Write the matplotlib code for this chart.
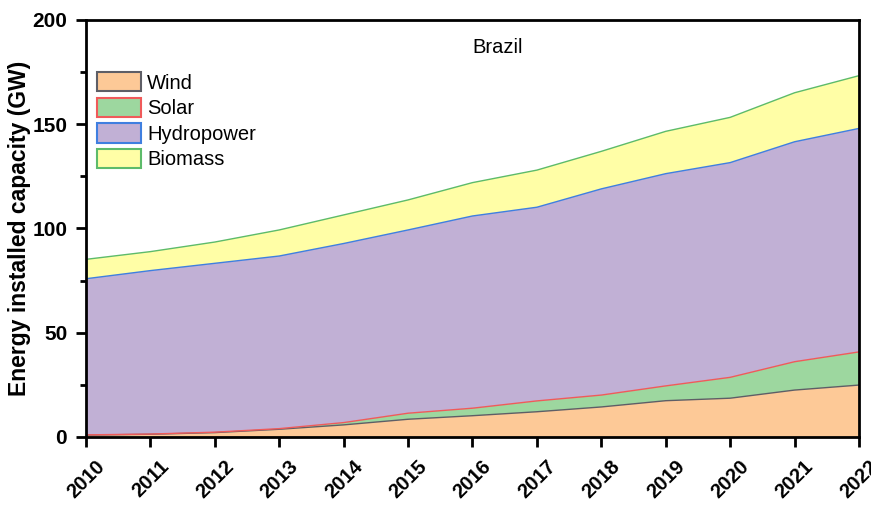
import matplotlib
matplotlib.use("Agg")
import matplotlib.pyplot as plt
from matplotlib.patches import Patch
from matplotlib.ticker import MultipleLocator
import numpy as np

plt.rcParams['font.family'] = ['Liberation Sans', 'DejaVu Sans']

years = [2010, 2011, 2012, 2013, 2014, 2015, 2016, 2017, 2018, 2019, 2020, 2021, 2022]
wind = [0.9, 1.3, 2.1, 3.7, 5.8, 8.5, 10.2, 12.1, 14.4, 17.4, 18.6, 22.5, 24.9]
solar = [0.1, 0.1, 0.2, 0.3, 1.1, 2.9, 3.6, 5.2, 5.7, 7.1, 10.0, 13.6, 15.9]
hydropower = [74.9, 78.4, 81.0, 82.8, 85.9, 87.9, 92.2, 92.9, 98.9, 101.8, 103.0, 105.5, 107.2]
biomass = [9.3, 9.1, 10.2, 12.5, 13.7, 14.4, 16.0, 17.8, 18.0, 20.3, 21.7, 23.5, 25.3]

labels = ["Wind", "Solar", "Hydropower", "Biomass"]
face_colors = ["#FDC997", "#9DD79F", "#C1B0D5", "#FFFEA6"]
edge_colors = ["#5E5E66", "#F05A5A", "#3F7FE0", "#5DBB6A"]

fig = plt.figure(figsize=(8.71, 5.05), dpi=100)
ax = fig.add_axes([0.0987, 0.1347, 0.8875, 0.8257])

x = np.array(years)
bottom = np.zeros(len(years))
series = [wind, solar, hydropower, biomass]
tops = []
for vals, fc in zip(series, face_colors):
    top = bottom + np.array(vals)
    ax.fill_between(x, bottom, top, facecolor=fc, edgecolor='none', linewidth=0)
    tops.append(top)
    bottom = top
# outline along the top of each band
for top, ec in zip(tops, edge_colors):
    ax.plot(x, top, color=ec, linewidth=1.0)

ax.set_xlim(2010, 2022)
ax.set_ylim(0, 200)
ax.set_xticks(years)
ax.set_xticklabels([str(y) for y in years], rotation=45, ha='center',
                   fontweight='bold', fontsize=14.5)
ax.yaxis.set_major_locator(MultipleLocator(50))
ax.yaxis.set_minor_locator(MultipleLocator(25))
for lab in ax.get_yticklabels():
    lab.set_fontweight('bold')
    lab.set_fontsize(15)

ax.tick_params(axis='both', which='major', direction='out', length=7.5, width=2)
ax.tick_params(axis='y', which='major', pad=6)
ax.tick_params(axis='x', which='major', pad=7)
ax.tick_params(axis='y', which='minor', direction='out', length=4.5, width=2)
ax.tick_params(axis='x', which='minor', length=0)
for sp in ax.spines.values():
    sp.set_linewidth(2)

ax.set_ylabel("Energy installed capacity (GW)", fontsize=16.5, fontweight='bold', labelpad=1)

ax.text(0.533, 0.935, "Brazil", transform=ax.transAxes, ha='center', va='center', fontsize=14.5)

handles = [Patch(facecolor=fc, edgecolor=ec, linewidth=1.5) for fc, ec in zip(face_colors, edge_colors)]
ax.legend(handles, labels, loc='upper left', bbox_to_anchor=(0.014, 0.875), frameon=False,
          fontsize=14.5, handlelength=2.2, handleheight=1.1, labelspacing=0.25,
          handletextpad=0.3, borderpad=0, borderaxespad=0)

fig.savefig("out.png", dpi=100)
